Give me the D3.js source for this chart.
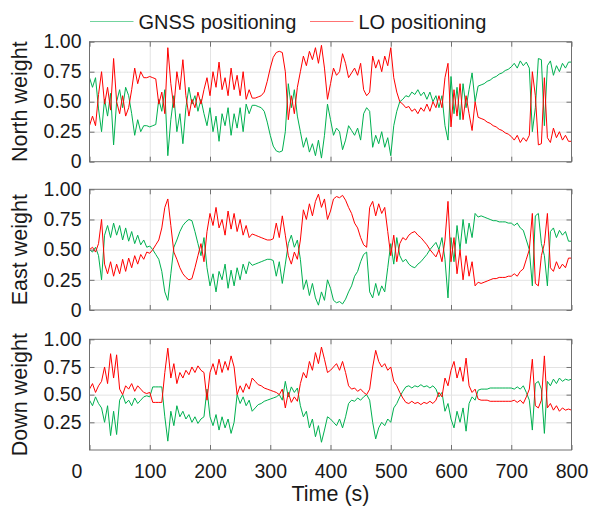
<!DOCTYPE html>
<html>
<head>
<meta charset="utf-8">
<script src="https://cdn.jsdelivr.net/npm/d3@7"></script>
<style>
  body { margin: 0; background: #fff; }
  svg { display: block; }
  text { font-family: "Liberation Sans", Arial, sans-serif; fill: #1a1a1a; }
</style>
</head>
<body>
<svg id="chart"></svg>
<script>
'use strict'

const WIDTH = 589;
const HEIGHT = 507;

// sample times (s), one every 5 s
const TIME = d3.range(0, 805, 5);

// weights in hundredths
const northGnss = [70,62,70,44,25,52,38,57,14,50,60,45,62,55,
  40,22,35,25,30,30,29,30,31,52,
  42,60,5,35,55,25,40,15,45,62,
  48,55,42,52,40,30,45,25,38,17,
  40,30,45,22,40,28,45,25,48,40,
  47,47,46,45,42,33,22,13,9,8,
  9,25,65,45,60,38,25,12,20,8,
  15,5,18,3,22,48,35,22,28,25,
  10,18,30,26,22,28,18,40,45,42,
  12,22,15,25,12,20,5,30,42,50,
  52,55,54,58,56,60,55,58,52,58,
  50,55,45,55,30,18,71,40,62,35,
  65,45,60,74,50,63,64,65,67,68,
  70,71,73,74,76,77,79,82,78,84,
  80,83,78,25,45,86,85,30,80,84,
  72,80,75,82,78,83,83];
const northLo = [30,38,30,56,75,48,62,43,86,50,40,55,38,45,
  60,78,65,75,70,70,71,70,69,48,
  58,40,95,65,45,75,60,85,55,38,
  52,45,58,48,60,70,55,75,62,83,
  60,70,55,78,60,72,55,75,52,60,
  53,53,54,55,58,67,78,87,91,92,
  91,75,35,55,40,62,75,88,80,92,
  85,95,82,97,78,52,65,78,72,75,
  90,82,70,74,78,72,82,60,55,58,
  88,78,85,75,88,80,95,70,58,50,
  48,45,46,42,44,40,45,42,48,42,
  50,45,55,45,70,82,29,60,38,65,
  35,55,40,26,50,37,36,35,33,32,
  30,29,27,26,24,23,21,18,22,16,
  20,17,22,75,55,14,15,70,20,16,
  28,20,25,18,22,17,17];

const eastGnss = [50,48,52,45,25,62,70,60,72,62,70,58,68,57,
  65,55,62,54,58,52,53,50,46,42,
  32,15,8,30,52,58,65,70,73,75,
  74,65,55,45,60,35,20,30,15,32,
  25,38,18,33,20,35,25,38,30,40,
  37,38,39,40,41,42,42,41,28,40,
  22,38,55,62,52,58,42,17,25,12,
  22,10,4,15,8,25,18,8,6,7,
  5,9,15,20,28,32,40,46,48,15,
  10,22,12,20,15,35,55,38,60,45,
  40,42,38,36,35,38,40,43,46,50,
  53,56,50,60,42,10,60,40,70,50,
  75,55,72,60,80,77,78,77,76,75,
  74,74,73,73,73,72,72,70,72,68,
  66,58,50,20,78,80,55,45,20,65,
  68,60,66,62,65,57,57];
const eastLo = [50,52,48,55,75,38,30,40,28,38,30,42,32,43,
  35,45,38,46,42,48,47,50,54,58,
  68,85,92,70,48,42,35,30,27,25,
  26,35,45,55,40,65,80,70,85,68,
  75,62,82,67,80,65,75,62,70,60,
  63,62,61,60,59,58,58,59,72,60,
  78,62,45,38,48,42,58,83,75,88,
  78,90,96,85,92,75,82,92,94,93,
  95,91,85,80,72,68,60,54,52,85,
  90,78,88,80,85,65,45,62,40,55,
  60,58,62,64,65,62,60,57,54,50,
  47,44,50,40,58,90,40,60,30,50,
  25,45,28,40,20,23,22,23,24,25,
  26,26,27,27,27,28,28,30,28,32,
  34,42,50,80,22,20,45,55,80,35,
  32,40,34,38,35,43,43];

const downGnss = [45,40,48,42,38,25,40,13,35,14,45,50,42,45,
  40,47,42,45,48,49,48,57,57,57,
  57,30,8,35,22,40,30,35,28,32,
  25,30,24,28,30,55,30,22,32,18,
  30,20,28,15,25,50,42,48,40,45,
  35,38,41,42,44,45,46,47,48,50,
  45,62,48,57,52,56,40,30,35,20,
  28,12,22,7,18,30,28,25,22,28,
  20,30,42,45,44,47,45,48,50,45,
  25,10,20,25,22,28,25,38,42,48,
  53,57,58,56,58,57,59,57,58,56,
  58,55,48,52,35,42,28,20,35,25,
  38,17,42,48,45,54,55,55,55,56,
  56,56,56,56,56,56,56,55,57,55,
  58,52,45,18,60,62,55,15,62,58,
  64,60,65,62,64,63,64];
const downLo = [55,60,52,58,62,75,60,87,65,86,55,50,58,55,
  60,53,58,55,52,51,52,43,43,43,
  43,70,92,65,78,60,70,65,72,68,
  75,70,76,72,70,45,70,78,68,82,
  70,80,72,85,75,50,58,52,60,55,
  65,62,59,58,56,55,54,53,52,50,
  55,38,52,43,48,44,60,70,65,80,
  72,88,78,93,82,70,72,75,78,72,
  80,70,58,55,56,53,55,52,50,55,
  75,90,80,75,78,72,75,62,58,52,
  47,43,42,44,42,43,41,43,42,44,
  42,45,52,48,65,58,72,80,65,75,
  62,83,58,52,55,46,45,45,45,44,
  44,44,44,44,44,44,44,45,43,45,
  42,48,55,82,40,38,45,85,38,42,
  36,40,35,38,36,37,36];

const seriesNames = ['GNSS positioning', 'LO positioning'];
const seriesColors = ['#00b050', '#ff0000'];
const xTicks = [0, 100, 200, 300, 400, 500, 600, 700, 800];

const panels = [
  {label: 'North weight', gnss: northGnss, lo: northLo, top: 41.7, bottom: 161.7, ticks: [0, 0.25, 0.5, 0.75, 1]},
  {label: 'East weight', gnss: eastGnss, lo: eastLo, top: 189.3, bottom: 310, ticks: [0, 0.25, 0.5, 0.75, 1]},
  {label: 'Down weight', gnss: downGnss, lo: downLo, top: 339.3, bottom: 450, ticks: [0.25, 0.5, 0.75, 1]}
];

const LEFT = 89.5;
const RIGHT = 571.5;

const svg = d3.select('#chart')
  .attr('width', WIDTH)
  .attr('height', HEIGHT);

const xScale = d3.scaleLinear().domain([0, 800]).range([LEFT, RIGHT]);

panels.forEach((p, k) => {
  const yScale = d3.scaleLinear().domain([0, 1]).range([p.bottom, p.top]);
  const g = svg.append('g');

  // grid
  g.append('g')
    .attr('transform', 'translate(0,' + p.bottom + ')')
    .call(d3.axisBottom(xScale).tickValues(xTicks.slice(1, -1)).tickSize(-(p.bottom - p.top)).tickFormat(''))
    .call(a => a.select('.domain').remove())
    .selectAll('line').attr('stroke', '#e3e3e3');
  g.append('g')
    .attr('transform', 'translate(' + LEFT + ',0)')
    .call(d3.axisLeft(yScale).tickValues([0.25, 0.5, 0.75]).tickSize(-(RIGHT - LEFT)).tickFormat(''))
    .call(a => a.select('.domain').remove())
    .selectAll('line').attr('stroke', '#e3e3e3');

  // data
  const line = d3.line()
    .x((d, i) => xScale(TIME[i]))
    .y(d => yScale(d / 100));
  [p.gnss, p.lo].forEach((vals, j) => {
    g.append('path')
      .datum(vals)
      .attr('d', line)
      .attr('fill', 'none')
      .attr('stroke', seriesColors[j])
      .attr('stroke-width', 1)
      .attr('stroke-linejoin', 'round');
  });

  // frame and inward ticks
  g.append('rect')
    .attr('x', LEFT).attr('y', p.top)
    .attr('width', RIGHT - LEFT).attr('height', p.bottom - p.top)
    .attr('fill', 'none').attr('stroke', '#707070').attr('stroke-width', 1);

  const yAxis = g.append('g')
    .attr('transform', 'translate(' + LEFT + ',0)')
    .call(d3.axisLeft(yScale).tickValues(p.ticks).tickSizeInner(-5).tickSizeOuter(0).tickPadding(8).tickFormat(d3.format('.2f')));
  yAxis.select('.domain').remove();
  yAxis.selectAll('line').attr('stroke', '#707070');
  yAxis.selectAll('text')
    .text(d => d === 0 ? '0' : d3.format('.2f')(d))
    .style('font-size', '19.5px');

  g.append('g')
    .attr('transform', 'translate(' + RIGHT + ',0)')
    .call(d3.axisRight(yScale).tickValues(p.ticks).tickSizeInner(-5).tickSizeOuter(0).tickFormat(''))
    .call(a => a.select('.domain').remove())
    .selectAll('line').attr('stroke', '#707070');

  g.append('g')
    .attr('transform', 'translate(0,' + p.top + ')')
    .call(d3.axisTop(xScale).tickValues(xTicks).tickSizeInner(-5).tickSizeOuter(0).tickFormat(''))
    .call(a => a.select('.domain').remove())
    .selectAll('line').attr('stroke', '#707070');

  const xAxis = g.append('g')
    .attr('transform', 'translate(0,' + p.bottom + ')')
    .call(d3.axisBottom(xScale).tickValues(xTicks).tickSizeInner(-5).tickSizeOuter(0).tickPadding(14));
  xAxis.select('.domain').remove();
  xAxis.selectAll('line').attr('stroke', '#707070');
  if (k < panels.length - 1) {
    xAxis.selectAll('text').remove();
  } else {
    xAxis.selectAll('text')
      .style('font-size', '19.5px')
      .attr('dx', d => d === 0 ? -13 : 0);
  }

  // y label
  svg.append('text')
    .attr('transform', 'translate(27,' + ((p.top + p.bottom) / 2) + ') rotate(-90)')
    .attr('text-anchor', 'middle')
    .style('font-size', '21.5px')
    .text(p.label);
});

// x label
svg.append('text')
  .attr('x', (LEFT + RIGHT) / 2)
  .attr('y', 501)
  .attr('text-anchor', 'middle')
  .style('font-size', '21.5px')
  .text('Time (s)');

// legend
const legendX = [90, 310];
const legend = svg.append('g');
seriesNames.forEach((name, j) => {
  legend.append('line')
    .attr('x1', legendX[j]).attr('x2', legendX[j] + 43.5)
    .attr('y1', 21.5).attr('y2', 21.5)
    .attr('stroke', seriesColors[j])
    .attr('stroke-opacity', 0.55)
    .attr('stroke-width', 1.2);
  legend.append('text')
    .attr('x', legendX[j] + 48.5)
    .attr('y', 28.5)
    .style('font-size', '20px')
    .text(name);
});
</script>
</body>
</html>
